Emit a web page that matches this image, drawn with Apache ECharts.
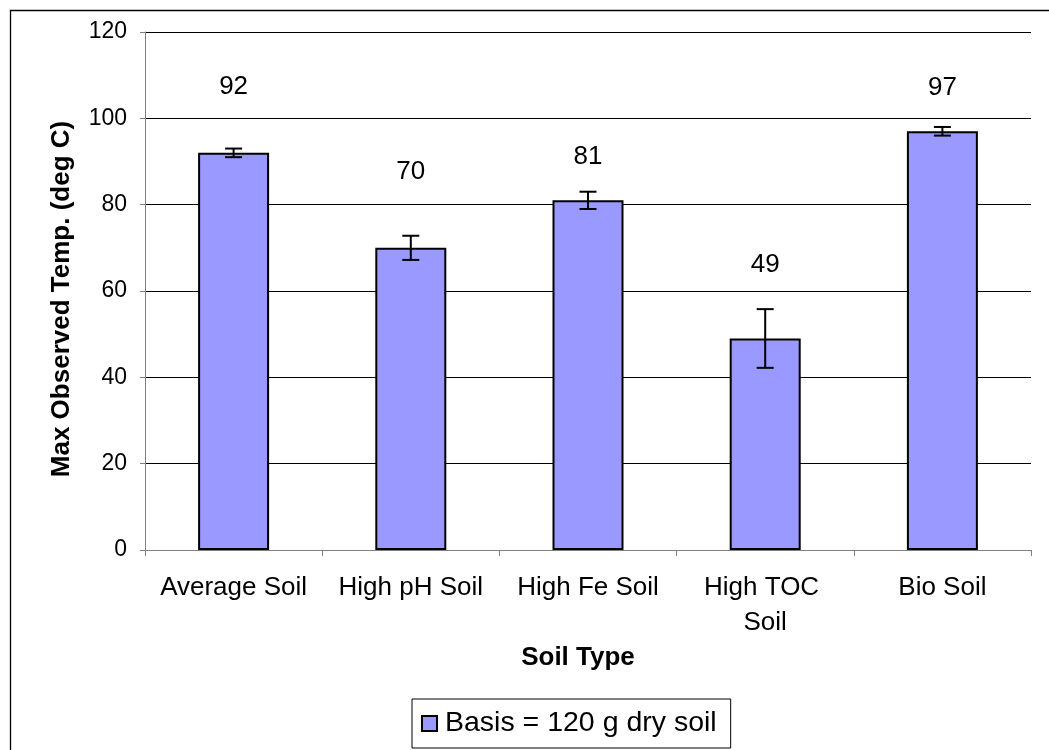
<!DOCTYPE html>
<html>
<head>
<meta charset="utf-8">
<script src="https://cdn.jsdelivr.net/npm/echarts@6/dist/echarts.min.js"></script>
<style>
html,body{margin:0;padding:0;background:#fff;}
#chart{width:1049px;height:750px;}
</style>
</head>
<body>
<div id="chart"></div>
<script>
var categories = ['Average Soil', 'High pH Soil', 'High Fe Soil', 'High TOC Soil', 'Bio Soil'];
var maxTemp = [92, 70, 81, 49, 97];
var errorAmount = [1, 2.8, 2, 6.8, 1];
var seriesName = 'Basis = 120 g dry soil';
var yTicks = [0, 20, 40, 60, 80, 100, 120];

// label distances above bars (style only)
var labelDistances = [53, 63, 31, 61, 30];

var FONT = '"Liberation Sans", Arial, sans-serif';
var chart = echarts.init(document.getElementById('chart'));

var barData = maxTemp.map(function (v, i) {
  return { value: v, label: { distance: labelDistances[i] } };
});
var errData = maxTemp.map(function (v, i) {
  return [i, v - errorAmount[i], v + errorAmount[i]];
});

var option = {
  backgroundColor: '#fff',
  animation: false,
  graphic: [{
    type: 'rect',
    shape: { x: 10.5, y: 10.5, width: 1200, height: 900 },
    style: { fill: 'none', stroke: '#000', lineWidth: 1.3 },
    silent: true, z: -1
  }],
  grid: { left: 145, right: 18, top: 32, bottom: 200 },
  legend: {
    left: 412, top: 699,
    data: [seriesName],
    backgroundColor: '#fff',
    borderColor: '#000', borderWidth: 1,
    padding: [10, 14, 10, 9],
    itemWidth: 15, itemHeight: 15,
    icon: 'rect',
    textStyle: { fontFamily: FONT, fontSize: 28.5, color: '#000', padding: [0, 0, 0, 3] }
  },
  xAxis: {
    type: 'category',
    data: categories,
    name: 'Soil Type',
    nameLocation: 'middle',
    nameGap: 95,
    nameTextStyle: { fontFamily: FONT, fontSize: 26, fontWeight: 'bold', color: '#000', padding: [0, 20, 0, 0] },
    axisLine: { lineStyle: { color: '#808080', width: 1 } },
    axisTick: { show: true, length: 6, lineStyle: { color: '#808080' }, alignWithLabel: false },
    axisLabel: {
      interval: 0, fontFamily: FONT, fontSize: 26, color: '#000',
      margin: 20, lineHeight: 35, width: 165, overflow: 'break'
    },
    splitLine: { show: false }
  },
  yAxis: {
    type: 'value',
    min: yTicks[0], max: yTicks[yTicks.length - 1], interval: yTicks[1] - yTicks[0],
    name: 'Max Observed Temp. (deg C)',
    nameLocation: 'middle',
    nameGap: 70,
    nameTextStyle: { fontFamily: FONT, fontSize: 26, fontWeight: 'bold', color: '#000', padding: [0, 16, 0, 0] },
    axisLine: { show: true, lineStyle: { color: '#808080', width: 1 } },
    axisTick: { show: true, inside: false, length: 5, lineStyle: { color: '#808080' } },
    axisLabel: { fontFamily: FONT, fontSize: 23, color: '#000', margin: 18 },
    splitLine: { show: true, lineStyle: { color: '#000', width: 1 } }
  },
  series: [{
    name: seriesName,
    type: 'bar',
    data: barData,
    barWidth: 71,
    itemStyle: { color: '#9999FF', borderColor: '#000', borderWidth: 2 },
    label: {
      show: true, position: 'top',
      fontFamily: FONT, fontSize: 26, color: '#000'
    }
  }, {
    type: 'custom',
    name: 'err',
    data: errData,
    z: 10,
    renderItem: function (params, api) {
      var x = api.value(0);
      var lo = api.coord([x, api.value(1)]);
      var hi = api.coord([x, api.value(2)]);
      var hw = 8.5;
      var st = { stroke: '#000', lineWidth: 2 };
      return {
        type: 'group',
        children: [
          { type: 'line', shape: { x1: lo[0], y1: lo[1], x2: hi[0], y2: hi[1] }, style: st },
          { type: 'line', shape: { x1: lo[0] - hw, y1: lo[1], x2: lo[0] + hw, y2: lo[1] }, style: st },
          { type: 'line', shape: { x1: hi[0] - hw, y1: hi[1], x2: hi[0] + hw, y2: hi[1] }, style: st }
        ]
      };
    }
  }]
};
chart.setOption(option);
</script>
</body>
</html>
